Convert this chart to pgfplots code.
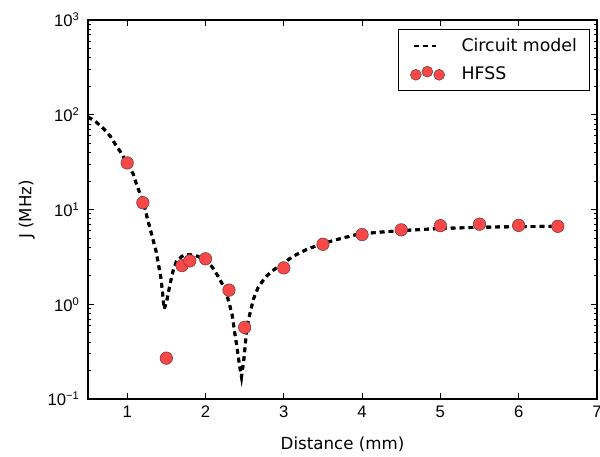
\documentclass[border=0pt]{standalone}
\usepackage{fontspec}
\setmainfont{DejaVu Sans}
\newfontfamily\tickfont{Liberation Sans}
\usepackage{pgfplots}
\pgfplotsset{compat=1.18}
\usetikzlibrary{calc}
\definecolor{mred}{RGB}{250,72,72}
\definecolor{medge}{RGB}{110,60,60}
\begin{document}
\fontsize{12pt}{14pt}\selectfont
\begin{tikzpicture}
\begin{axis}[
  scale only axis,
  width=366.4pt, height=272.9pt,
  xmin=0.5, xmax=7,
  ymode=log, ymin=0.1, ymax=1000,
  xtick={1,2,3,4,5,6,7},
  ytick={0.1,1,10,100,1000},
  yticklabels={10\textsuperscript{−1},10\textsuperscript{0},10\textsuperscript{1},10\textsuperscript{2},10\textsuperscript{3}},
  /pgf/number format/assume math mode=true,
  tick align=inside,
  major tick length=4pt,
  minor tick length=2pt,
  tick style={black, line width=0.6pt},
  axis line style={line width=0.9pt},
  xlabel={Distance (mm)},
  ylabel={J (MHz)},
  xlabel style={at={(0.5,0)}, anchor=north, yshift=-23pt},
  ylabel shift=1pt,
  xticklabel style={font=\tickfont\fontsize{12pt}{14pt}\selectfont, yshift=-1pt},
  yticklabel style={font=\tickfont\fontsize{12pt}{14pt}\selectfont, xshift=-2pt},
  legend style={at={(0.986,0.975)}, anchor=north east, draw=black, line width=0.5pt,
    font=\fontsize{12.5pt}{14pt}\selectfont, row sep=5pt, inner xsep=7pt, inner ysep=4pt,
    /tikz/every even column/.append style={column sep=9pt}},
  legend cell align=left,
  clip=true,
]
\addplot[black, line width=2.1pt, dash pattern=on 3.4pt off 3pt,
  legend image code/.code={
    \draw[black, line width=2.1pt, dash pattern=on 3.4pt off 3pt] (-0.2cm,0cm) -- (0.4cm,0cm);
    \fill[white, opacity=0] (-0.3cm,0cm) circle (0.5pt) (0.88cm,0cm) circle (0.5pt);
  }] coordinates {
(0.5,95) (0.61,83) (0.70,71) (0.78,60) (0.84,50) (0.91,41) (0.97,34) (1.01,29.8)
(1.08,23.4) (1.12,18.3) (1.16,15.0) (1.21,11.7) (1.25,8.5) (1.29,6.4) (1.33,4.8)
(1.37,3.6) (1.40,2.63) (1.43,1.9) (1.45,1.37) (1.47,0.89) (1.50,1.03) (1.525,1.32)
(1.56,1.82) (1.59,2.32) (1.63,2.84) (1.70,3.21) (1.76,3.35) (1.87,3.29) (1.97,3.02)
(2.08,2.51) (2.16,1.98) (2.23,1.55) (2.29,1.12) (2.34,0.78) (2.37,0.52) (2.40,0.363)
(2.43,0.24) (2.46,0.171) (2.49,0.263) (2.51,0.39) (2.53,0.59) (2.57,0.81) (2.61,1.12)
(2.67,1.49) (2.76,1.91) (2.85,2.24) (2.97,2.63) (3.12,3.21) (3.29,3.78) (3.48,4.34)
(3.68,4.82) (3.93,5.45) (4.2,5.75) (4.57,6.03) (5.0,6.31) (5.5,6.5) (6.0,6.6) (6.53,6.65)
};
\addlegendentry{Circuit model}
\addplot[only marks, mark=*, mark size=4.5pt, mark options={fill=mred, draw=medge, line width=0.4pt},
  legend image code/.code={
    \draw[fill=mred, draw=medge, line width=0.4pt, solid] (-0.15cm,-0.02cm) circle (3.9pt);
    \draw[fill=mred, draw=medge, line width=0.4pt, solid] (0.14cm,0.06cm) circle (3.9pt);
    \draw[fill=mred, draw=medge, line width=0.4pt, solid] (0.44cm,-0.02cm) circle (3.9pt);
    \fill[white, opacity=0] (-0.3cm,0cm) circle (0.5pt) (0.88cm,0cm) circle (0.5pt);
  }] coordinates {
(1.0,31) (1.2,11.8) (1.5,0.27) (1.7,2.56) (1.8,2.87) (2.0,3.02) (2.3,1.41) (2.5,0.57)
(3.0,2.42) (3.5,4.3) (4.0,5.44) (4.5,6.1) (5.0,6.75) (5.5,7.0) (6.0,6.8) (6.5,6.65)
};
\addlegendentry{HFSS}
\addplot[black, line width=2.1pt, dash pattern=on 3.4pt off 3pt, forget plot] coordinates {
(0.5,95) (0.61,83) (0.70,71) (0.78,60) (0.84,50) (0.91,41) (0.97,34) (1.01,29.8)
(1.08,23.4) (1.12,18.3) (1.16,15.0) (1.21,11.7) (1.25,8.5) (1.29,6.4) (1.33,4.8)
(1.37,3.6) (1.40,2.63) (1.43,1.9) (1.45,1.37) (1.47,0.89) (1.50,1.03) (1.525,1.32)
(1.56,1.82) (1.59,2.32) (1.63,2.84) (1.70,3.21) (1.76,3.35) (1.87,3.29) (1.97,3.02)
(2.08,2.51) (2.16,1.98) (2.23,1.55) (2.29,1.12) (2.34,0.78) (2.37,0.52) (2.40,0.363)
(2.43,0.24) (2.46,0.171) (2.49,0.263) (2.51,0.39) (2.53,0.59) (2.57,0.81) (2.61,1.12)
(2.67,1.49) (2.76,1.91) (2.85,2.24) (2.97,2.63) (3.12,3.21) (3.29,3.78) (3.48,4.34)
(3.68,4.82) (3.93,5.45) (4.2,5.75) (4.57,6.03) (5.0,6.31) (5.5,6.5) (6.0,6.6) (6.53,6.65)
};
\end{axis}
\pgfresetboundingbox
\path ($(current axis.south west)+(-63.4pt,-41.7pt)$) rectangle ($(current axis.north east)+(2.2pt,14.4pt)$);
\end{tikzpicture}
\end{document}
